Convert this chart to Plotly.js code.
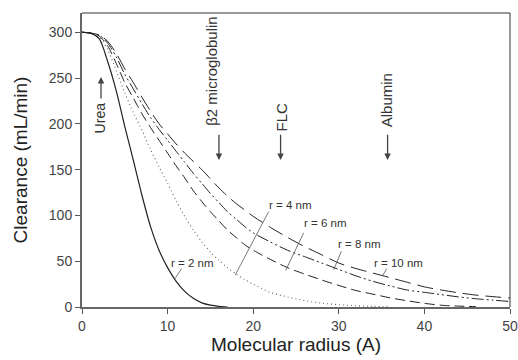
<!DOCTYPE html>
<html>
<head>
<meta charset="utf-8">
<script src="https://cdn.plot.ly/plotly-3.0.1.min.js"></script>
<style>html,body{margin:0;padding:0;background:#fff;}#chart{width:518px;height:360px;}</style>
</head>
<body>
<div id="chart"></div>
<script>
// Molecular radius (A)
const radius = [0,1,2,3,4,5,6,7,8,9,10,11,12,13,14,15,16,17,18,19,20,22,24,26,28,30,32,34,36,38,40,42,44,46,48,50];
// Clearance (mL/min) per pore radius
const r2nm  = [300,299,293,268,236,197,160,122,88,62,43,28,17,9.5,4.5,2,0.7,0,null,null,null,null,null,null,null,null,null,null,null,null,null,null,null,null,null,null];
const r4nm  = [300,299,295,281,258,234,212,193,172,153,135,116,99,84,71,60,51,43,36,30,25,16,11,7,4.2,2.5,1.4,0.7,0.3,null,null,null,null,null,null,null];
const r6nm  = [300,299,296,285,266,245,228,211,196,182,168,154,141,127,115,104,94,84,76,68,62,52,43,36,29.5,23.5,18,14,10,6.8,4,1.9,1,0.4,null,null];
const r8nm  = [300,299,297,288,273,254,238,222,207,194,182,170,158,146,135,124,114,104,96,88,81,71,62,55,48,41,34,28,23,18.5,16,13.5,11,9,7.5,6];
const r10nm = [300,299,297,290,277,260,245,229,214,200,189,178,168,159,150,140,130,121,113,106,99,87,76,66,57,48,42,37,32,27,22,18.5,15.5,13,11.3,9.8];

const seriesNames = ['r = 2 nm','r = 4 nm','r = 6 nm','r = 8 nm','r = 10 nm'];
const xTicks = [0,10,20,30,40,50];
const yTicks = [0,50,100,150,200,250,300];

// label annotations: [text, x, y]
const curveLabels = [['r = 2 nm',12.9,48.3],['r = 4 nm',24.3,111],['r = 6 nm',28.4,91.5],['r = 8 nm',32.4,69],['r = 10 nm',36.95,48.3]];
// leader lines: [x0,y0,x1,y1]
const leaders = [[11.65,42,10.86,31],[21.8,104,17.9,35],[25.9,81,23.8,40],[30.3,61,29.4,40.5],[35.6,42,35.1,34]];
// molecule markers: [text, textX, textY, arrowX, tailY, headY, fontSize]
const molecules = [['Urea',2.1,207,2.22,226,251,14],['\u03b22 microglobulin',15.2,258,16.0,189.6,160.4,15],['FLC',23.25,207,23.2,189.6,160.4,15],['Albumin',35.5,225.6,35.7,189.6,160.4,15]];

const styles = [
  {color:'#222', width:1.2, dash:'solid'},
  {color:'#666', width:1.1, dash:'1px,3px'},
  {color:'#222', width:1, dash:'10px,5px'},
  {color:'#222', width:1, dash:'12px,3px,2px,3px,2px,3px'},
  {color:'#222', width:1, dash:'16px,7px'}
];
const allSeries = [r2nm, r4nm, r6nm, r8nm, r10nm];
const traces = allSeries.map((ys,i)=>({
  x: radius, y: ys, type:'scatter', mode:'lines', name: seriesNames[i],
  line: Object.assign({shape:'spline', smoothing:0.8}, styles[i]),
  connectgaps:false, hoverinfo:'skip'
}));

const annotations = [];
curveLabels.forEach(l=>annotations.push({x:l[1], y:l[2], xref:'x', yref:'y', text:l[0], showarrow:false,
  xanchor:'center', yanchor:'middle', font:{family:'Liberation Sans, Arial, sans-serif', size:11.5, color:'#333'}}));
molecules.forEach(m=>{
  annotations.push({x:m[1], y:m[2], xref:'x', yref:'y', text:m[0], textangle:-90, showarrow:false,
    xanchor:'center', yanchor:'middle', font:{family:'Liberation Sans, Arial, sans-serif', size:m[6], color:'#333'}});
  annotations.push({x:m[3], y:m[5], ax:m[3], ay:m[4], xref:'x', yref:'y', axref:'x', ayref:'y', text:'',
    showarrow:true, arrowhead:2, arrowsize:1, arrowwidth:1.3, arrowcolor:'#444'});
});

const shapes = leaders.map(s=>({type:'line', xref:'x', yref:'y', x0:s[0], y0:s[1], x1:s[2], y1:s[3], line:{color:'#555', width:0.8}}));
shapes.push({type:'line', xref:'paper', yref:'paper', x0:0, y0:1, x1:1, y1:1, line:{color:'#333', width:1}});
shapes.push({type:'line', xref:'paper', yref:'paper', x0:1, y0:0, x1:1, y1:1, line:{color:'#333', width:1}});

const layout = {
  width:518, height:360,
  margin:{l:82, r:8, t:13, b:53, pad:0},
  paper_bgcolor:'#fff', plot_bgcolor:'#fff',
  showlegend:false,
  font:{family:'Liberation Sans, Arial, sans-serif', color:'#333'},
  xaxis:{range:[0,50], tickvals:xTicks, ticks:'outside', ticklen:5, tickwidth:1, tickcolor:'#555',
    showline:true, linecolor:'#666', linewidth:2, showgrid:false, zeroline:false,
    tickfont:{size:14, color:'#444'},
    title:{text:'Molecular radius (A)', font:{size:19, color:'#222'}, standoff:5}},
  yaxis:{range:[0,321], tickvals:yTicks, ticks:'outside', ticklen:5, tickwidth:1, tickcolor:'#555',
    showline:true, linecolor:'#666', linewidth:2, showgrid:false, zeroline:false,
    tickfont:{size:14, color:'#444'},
    title:{text:'Clearance (mL/min)', font:{size:19, color:'#222'}, standoff:16}},
  annotations: annotations,
  shapes: shapes
};
Plotly.newPlot('chart', traces, layout, {staticPlot:true, displayModeBar:false});
</script>
</body>
</html>
